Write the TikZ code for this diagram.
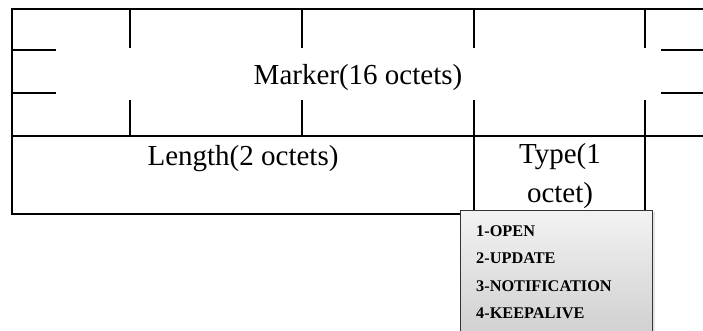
\documentclass[tikz,border=0pt]{standalone}
\usepackage{fontspec}
\setmainfont{Liberation Serif}
\usetikzlibrary{shadows}
\begin{document}
\begin{tikzpicture}[x=1pt,y=-1pt,
  grid/.style={line width=2.2pt,line cap=rect},
  celltext/.style={font=\fontsize{29}{38}\selectfont,inner sep=0pt,anchor=base,align=center},
  popbox/.style={draw=black!80,line width=1.3pt,top color=gray!10,bottom color=gray!38,
    drop shadow={shadow xshift=2.5pt,shadow yshift=-1pt,opacity=.22}},
  item/.style={font=\fontsize{16.3}{20}\selectfont\bfseries,inner sep=0pt,anchor=base west}]
\useasboundingbox (0,0) rectangle (703,331);
% outer frame and row divider
\draw[grid] (706,9) -- (12,9) -- (12,214) -- (645,214);
\draw[grid] (12,136) -- (706,136);
% broken field ticks in the marker row
\foreach \x in {130,302,474,645}{
  \draw[grid] (\x,9) -- (\x,47);
  \draw[grid] (\x,101) -- (\x,136);
}
\foreach \y in {50,93}{
  \draw[grid] (12,\y) -- (55,\y);
  \draw[grid] (662,\y) -- (706,\y);
}
% second row cell borders
\draw[grid] (474,136) -- (474,214);
\draw[grid] (645,136) -- (645,214);
% field labels
\node[celltext] (marker) at (358,85) {Marker(16 octets)};
\node[celltext] (length) at (243,165) {Length(2 octets)};
\node[celltext] (type1) at (560,164) {Type(1};
\node[celltext] (type2) at (560,202) {octet)};
% message type list
\node[popbox,minimum width=192pt,minimum height=130pt,inner sep=0pt,anchor=north west] (popup) at (460,210) {};
\node[item] (open) at (476,236) {1-OPEN};
\node[item] (update) at (476,263.5) {2-UPDATE};
\node[item] (notif) at (476,291) {3-NOTIFICATION};
\node[item] (keep) at (476,318.5) {4-KEEPALIVE};
\end{tikzpicture}
\end{document}
